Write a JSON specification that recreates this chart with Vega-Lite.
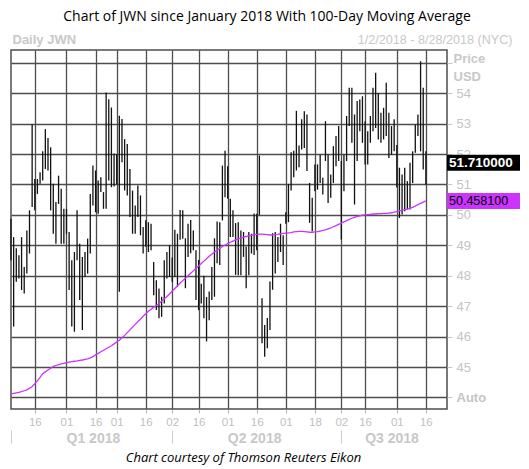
{
  "$schema": "https://vega.github.io/schema/vega-lite/v6.json",
  "width": 436,
  "height": 359,
  "autosize": "none",
  "padding": {"left": 11, "top": 50, "right": 82, "bottom": 60},
  "background": "white",
  "title": {"text": "Chart of JWN since January 2018 With 100-Day Moving Average", "font": "Open Sans", "fontSize": 14, "fontWeight": "normal", "color": "#000000", "offset": 9, "dx": 38},
  "config": {"view": {"stroke": "#4d4d4d", "strokeWidth": 1.5}},
  "resolve": {"axis": {"x": "independent", "y": "independent"}},
  "datasets": {
    "px": [
      {"date": "2018-01-02", "high": 49.87, "low": 48.51, "ma": 44.11},
      {"date": "2018-01-03", "high": 49.27, "low": 46.33, "ma": 44.13},
      {"date": "2018-01-04", "high": 48.90, "low": 47.80, "ma": 44.15},
      {"date": "2018-01-05", "high": 48.67, "low": 47.91, "ma": 44.17},
      {"date": "2018-01-08", "high": 49.27, "low": 47.53, "ma": 44.19},
      {"date": "2018-01-09", "high": 48.29, "low": 47.42, "ma": 44.22},
      {"date": "2018-01-10", "high": 49.49, "low": 48.07, "ma": 44.25},
      {"date": "2018-01-11", "high": 50.15, "low": 48.73, "ma": 44.30},
      {"date": "2018-01-12", "high": 52.98, "low": 50.26, "ma": 44.36},
      {"date": "2018-01-16", "high": 51.18, "low": 50.15, "ma": 44.45},
      {"date": "2018-01-17", "high": 51.18, "low": 50.69, "ma": 44.55},
      {"date": "2018-01-18", "high": 51.40, "low": 51.02, "ma": 44.66},
      {"date": "2018-01-19", "high": 52.09, "low": 51.13, "ma": 44.78},
      {"date": "2018-01-22", "high": 52.82, "low": 51.51, "ma": 44.84},
      {"date": "2018-01-23", "high": 52.53, "low": 51.46, "ma": 44.90},
      {"date": "2018-01-24", "high": 52.22, "low": 50.15, "ma": 44.96},
      {"date": "2018-01-25", "high": 51.02, "low": 49.38, "ma": 45.02},
      {"date": "2018-01-26", "high": 50.42, "low": 49.05, "ma": 45.05},
      {"date": "2018-01-29", "high": 51.29, "low": 50.36, "ma": 45.08},
      {"date": "2018-01-30", "high": 50.86, "low": 49.05, "ma": 45.10},
      {"date": "2018-01-31", "high": 50.20, "low": 49.05, "ma": 45.12},
      {"date": "2018-02-01", "high": 50.20, "low": 49.38, "ma": 45.14},
      {"date": "2018-02-02", "high": 49.44, "low": 47.53, "ma": 45.16},
      {"date": "2018-02-05", "high": 48.51, "low": 46.33, "ma": 45.18},
      {"date": "2018-02-06", "high": 48.78, "low": 46.16, "ma": 45.19},
      {"date": "2018-02-07", "high": 50.15, "low": 48.51, "ma": 45.20},
      {"date": "2018-02-08", "high": 49.05, "low": 47.20, "ma": 45.22},
      {"date": "2018-02-09", "high": 48.62, "low": 46.22, "ma": 45.23},
      {"date": "2018-02-12", "high": 48.78, "low": 47.96, "ma": 45.25},
      {"date": "2018-02-13", "high": 49.22, "low": 48.07, "ma": 45.27},
      {"date": "2018-02-14", "high": 50.69, "low": 48.73, "ma": 45.30},
      {"date": "2018-02-15", "high": 51.62, "low": 50.31, "ma": 45.34},
      {"date": "2018-02-16", "high": 51.46, "low": 50.09, "ma": 45.40},
      {"date": "2018-02-20", "high": 51.13, "low": 50.04, "ma": 45.45},
      {"date": "2018-02-21", "high": 51.24, "low": 50.75, "ma": 45.50},
      {"date": "2018-02-22", "high": 50.75, "low": 50.20, "ma": 45.55},
      {"date": "2018-02-23", "high": 54.02, "low": 50.20, "ma": 45.60},
      {"date": "2018-02-26", "high": 53.80, "low": 51.13, "ma": 45.65},
      {"date": "2018-02-27", "high": 53.53, "low": 50.91, "ma": 45.70},
      {"date": "2018-02-28", "high": 52.02, "low": 50.93, "ma": 45.76},
      {"date": "2018-03-01", "high": 52.00, "low": 51.00, "ma": 45.82},
      {"date": "2018-03-02", "high": 53.26, "low": 47.47, "ma": 45.88},
      {"date": "2018-03-05", "high": 53.15, "low": 51.73, "ma": 45.96},
      {"date": "2018-03-06", "high": 52.49, "low": 50.80, "ma": 46.04},
      {"date": "2018-03-07", "high": 52.33, "low": 50.64, "ma": 46.13},
      {"date": "2018-03-08", "high": 51.51, "low": 49.93, "ma": 46.22},
      {"date": "2018-03-09", "high": 50.80, "low": 49.38, "ma": 46.31},
      {"date": "2018-03-12", "high": 50.31, "low": 49.38, "ma": 46.40},
      {"date": "2018-03-13", "high": 50.97, "low": 49.93, "ma": 46.49},
      {"date": "2018-03-14", "high": 50.64, "low": 49.33, "ma": 46.58},
      {"date": "2018-03-15", "high": 49.60, "low": 48.73, "ma": 46.67},
      {"date": "2018-03-16", "high": 49.82, "low": 48.95, "ma": 46.75},
      {"date": "2018-03-19", "high": 49.76, "low": 48.78, "ma": 46.83},
      {"date": "2018-03-20", "high": 49.71, "low": 48.84, "ma": 46.90},
      {"date": "2018-03-21", "high": 48.45, "low": 47.36, "ma": 46.96},
      {"date": "2018-03-22", "high": 47.85, "low": 46.87, "ma": 47.02},
      {"date": "2018-03-23", "high": 47.58, "low": 46.60, "ma": 47.09},
      {"date": "2018-03-26", "high": 47.31, "low": 46.65, "ma": 47.17},
      {"date": "2018-03-27", "high": 48.51, "low": 47.09, "ma": 47.24},
      {"date": "2018-03-28", "high": 48.78, "low": 47.91, "ma": 47.32},
      {"date": "2018-03-29", "high": 49.00, "low": 47.96, "ma": 47.40},
      {"date": "2018-04-02", "high": 48.60, "low": 47.80, "ma": 47.49},
      {"date": "2018-04-03", "high": 49.51, "low": 47.97, "ma": 47.58},
      {"date": "2018-04-04", "high": 49.38, "low": 47.64, "ma": 47.67},
      {"date": "2018-04-05", "high": 50.16, "low": 49.18, "ma": 47.76},
      {"date": "2018-04-06", "high": 50.15, "low": 49.22, "ma": 47.84},
      {"date": "2018-04-09", "high": 49.23, "low": 47.59, "ma": 47.92},
      {"date": "2018-04-10", "high": 49.71, "low": 48.62, "ma": 48.00},
      {"date": "2018-04-11", "high": 49.83, "low": 48.74, "ma": 48.08},
      {"date": "2018-04-12", "high": 49.49, "low": 48.84, "ma": 48.16},
      {"date": "2018-04-13", "high": 48.84, "low": 47.20, "ma": 48.24},
      {"date": "2018-04-16", "high": 48.52, "low": 46.87, "ma": 48.32},
      {"date": "2018-04-17", "high": 47.74, "low": 47.09, "ma": 48.40},
      {"date": "2018-04-18", "high": 48.00, "low": 46.60, "ma": 48.48},
      {"date": "2018-04-19", "high": 47.30, "low": 45.84, "ma": 48.56},
      {"date": "2018-04-20", "high": 47.48, "low": 46.54, "ma": 48.64},
      {"date": "2018-04-23", "high": 48.29, "low": 47.20, "ma": 48.71},
      {"date": "2018-04-24", "high": 49.23, "low": 47.31, "ma": 48.78},
      {"date": "2018-04-25", "high": 49.78, "low": 48.41, "ma": 48.84},
      {"date": "2018-04-26", "high": 49.76, "low": 48.35, "ma": 48.90},
      {"date": "2018-04-27", "high": 51.62, "low": 49.82, "ma": 48.96},
      {"date": "2018-04-30", "high": 52.11, "low": 50.58, "ma": 49.01},
      {"date": "2018-05-01", "high": 51.60, "low": 50.53, "ma": 49.06},
      {"date": "2018-05-02", "high": 50.53, "low": 49.27, "ma": 49.10},
      {"date": "2018-05-03", "high": 50.15, "low": 49.27, "ma": 49.14},
      {"date": "2018-05-04", "high": 49.73, "low": 48.03, "ma": 49.18},
      {"date": "2018-05-07", "high": 49.76, "low": 48.02, "ma": 49.21},
      {"date": "2018-05-08", "high": 49.49, "low": 48.02, "ma": 49.24},
      {"date": "2018-05-09", "high": 49.44, "low": 48.62, "ma": 49.27},
      {"date": "2018-05-10", "high": 48.96, "low": 47.59, "ma": 49.29},
      {"date": "2018-05-11", "high": 49.44, "low": 48.02, "ma": 49.31},
      {"date": "2018-05-14", "high": 49.38, "low": 48.73, "ma": 49.33},
      {"date": "2018-05-15", "high": 50.05, "low": 48.68, "ma": 49.35},
      {"date": "2018-05-16", "high": 50.04, "low": 48.84, "ma": 49.36},
      {"date": "2018-05-17", "high": 51.95, "low": 50.00, "ma": 49.37},
      {"date": "2018-05-18", "high": 47.26, "low": 45.78, "ma": 49.37},
      {"date": "2018-05-21", "high": 46.38, "low": 45.34, "ma": 49.36},
      {"date": "2018-05-22", "high": 46.61, "low": 45.62, "ma": 49.35},
      {"date": "2018-05-23", "high": 47.81, "low": 46.22, "ma": 49.34},
      {"date": "2018-05-24", "high": 49.40, "low": 47.54, "ma": 49.34},
      {"date": "2018-05-25", "high": 49.44, "low": 48.07, "ma": 49.35},
      {"date": "2018-05-29", "high": 49.27, "low": 48.45, "ma": 49.36},
      {"date": "2018-05-30", "high": 49.71, "low": 48.78, "ma": 49.38},
      {"date": "2018-05-31", "high": 49.33, "low": 48.35, "ma": 49.39},
      {"date": "2018-06-01", "high": 50.09, "low": 49.71, "ma": 49.40},
      {"date": "2018-06-04", "high": 51.02, "low": 49.76, "ma": 49.41},
      {"date": "2018-06-05", "high": 52.06, "low": 50.80, "ma": 49.42},
      {"date": "2018-06-06", "high": 52.11, "low": 51.24, "ma": 49.44},
      {"date": "2018-06-07", "high": 53.42, "low": 51.46, "ma": 49.45},
      {"date": "2018-06-08", "high": 52.28, "low": 51.57, "ma": 49.46},
      {"date": "2018-06-11", "high": 53.14, "low": 52.15, "ma": 49.46},
      {"date": "2018-06-12", "high": 53.41, "low": 52.20, "ma": 49.45},
      {"date": "2018-06-13", "high": 53.30, "low": 51.44, "ma": 49.44},
      {"date": "2018-06-14", "high": 51.05, "low": 49.74, "ma": 49.43},
      {"date": "2018-06-15", "high": 50.56, "low": 49.46, "ma": 49.43},
      {"date": "2018-06-18", "high": 51.66, "low": 50.78, "ma": 49.44},
      {"date": "2018-06-19", "high": 51.66, "low": 50.83, "ma": 49.45},
      {"date": "2018-06-20", "high": 51.98, "low": 51.05, "ma": 49.47},
      {"date": "2018-06-21", "high": 51.22, "low": 50.67, "ma": 49.49},
      {"date": "2018-06-22", "high": 53.08, "low": 51.77, "ma": 49.51},
      {"date": "2018-06-25", "high": 51.98, "low": 50.39, "ma": 49.54},
      {"date": "2018-06-26", "high": 51.33, "low": 50.56, "ma": 49.57},
      {"date": "2018-06-27", "high": 52.26, "low": 51.05, "ma": 49.61},
      {"date": "2018-06-28", "high": 52.59, "low": 51.60, "ma": 49.65},
      {"date": "2018-06-29", "high": 52.92, "low": 51.77, "ma": 49.69},
      {"date": "2018-07-02", "high": 51.77, "low": 49.19, "ma": 49.73},
      {"date": "2018-07-03", "high": 51.98, "low": 50.78, "ma": 49.77},
      {"date": "2018-07-05", "high": 53.25, "low": 51.77, "ma": 49.81},
      {"date": "2018-07-06", "high": 54.18, "low": 52.92, "ma": 49.85},
      {"date": "2018-07-09", "high": 54.18, "low": 52.37, "ma": 49.89},
      {"date": "2018-07-10", "high": 53.30, "low": 50.34, "ma": 49.92},
      {"date": "2018-07-11", "high": 53.74, "low": 51.77, "ma": 49.95},
      {"date": "2018-07-12", "high": 53.79, "low": 52.75, "ma": 49.97},
      {"date": "2018-07-13", "high": 53.90, "low": 52.37, "ma": 49.99},
      {"date": "2018-07-16", "high": 53.08, "low": 51.66, "ma": 50.00},
      {"date": "2018-07-17", "high": 52.75, "low": 51.66, "ma": 50.01},
      {"date": "2018-07-18", "high": 53.25, "low": 52.37, "ma": 50.02},
      {"date": "2018-07-19", "high": 54.18, "low": 52.75, "ma": 50.03},
      {"date": "2018-07-20", "high": 54.67, "low": 52.86, "ma": 50.03},
      {"date": "2018-07-23", "high": 54.01, "low": 52.48, "ma": 50.04},
      {"date": "2018-07-24", "high": 53.36, "low": 52.37, "ma": 50.04},
      {"date": "2018-07-25", "high": 53.52, "low": 52.48, "ma": 50.05},
      {"date": "2018-07-26", "high": 54.34, "low": 52.59, "ma": 50.05},
      {"date": "2018-07-27", "high": 53.36, "low": 51.87, "ma": 50.06},
      {"date": "2018-07-30", "high": 52.92, "low": 51.98, "ma": 50.07},
      {"date": "2018-07-31", "high": 53.14, "low": 52.09, "ma": 50.09},
      {"date": "2018-08-01", "high": 52.30, "low": 50.90, "ma": 50.11},
      {"date": "2018-08-02", "high": 51.55, "low": 49.90, "ma": 50.13},
      {"date": "2018-08-03", "high": 51.33, "low": 50.01, "ma": 50.15},
      {"date": "2018-08-06", "high": 51.55, "low": 50.12, "ma": 50.17},
      {"date": "2018-08-07", "high": 51.11, "low": 50.18, "ma": 50.19},
      {"date": "2018-08-08", "high": 51.71, "low": 50.18, "ma": 50.22},
      {"date": "2018-08-09", "high": 52.09, "low": 51.05, "ma": 50.25},
      {"date": "2018-08-10", "high": 52.97, "low": 52.04, "ma": 50.29},
      {"date": "2018-08-13", "high": 53.30, "low": 52.59, "ma": 50.34},
      {"date": "2018-08-14", "high": 55.05, "low": 52.09, "ma": 50.38},
      {"date": "2018-08-15", "high": 54.18, "low": 51.49, "ma": 50.42},
      {"date": "2018-08-16", "high": 52.09, "low": 51.00, "ma": 50.4581}
    ],
    "tags": [
      {"kind": "last", "value": 51.71, "label": "51.710000"},
      {"kind": "ma", "value": 50.4581, "label": "50.458100"}
    ]
  },
  "layer": [
    {
      "data": {"name": "px"},
      "mark": {"type": "rule", "color": "#111111", "strokeWidth": 1.3},
      "encoding": {
        "x": {
          "field": "date", "type": "ordinal",
          "scale": {"type": "point", "padding": 0, "domain": ["2018-01-02","2018-01-03","2018-01-04","2018-01-05","2018-01-08","2018-01-09","2018-01-10","2018-01-11","2018-01-12","2018-01-16","2018-01-17","2018-01-18","2018-01-19","2018-01-22","2018-01-23","2018-01-24","2018-01-25","2018-01-26","2018-01-29","2018-01-30","2018-01-31","2018-02-01","2018-02-02","2018-02-05","2018-02-06","2018-02-07","2018-02-08","2018-02-09","2018-02-12","2018-02-13","2018-02-14","2018-02-15","2018-02-16","2018-02-20","2018-02-21","2018-02-22","2018-02-23","2018-02-26","2018-02-27","2018-02-28","2018-03-01","2018-03-02","2018-03-05","2018-03-06","2018-03-07","2018-03-08","2018-03-09","2018-03-12","2018-03-13","2018-03-14","2018-03-15","2018-03-16","2018-03-19","2018-03-20","2018-03-21","2018-03-22","2018-03-23","2018-03-26","2018-03-27","2018-03-28","2018-03-29","2018-04-02","2018-04-03","2018-04-04","2018-04-05","2018-04-06","2018-04-09","2018-04-10","2018-04-11","2018-04-12","2018-04-13","2018-04-16","2018-04-17","2018-04-18","2018-04-19","2018-04-20","2018-04-23","2018-04-24","2018-04-25","2018-04-26","2018-04-27","2018-04-30","2018-05-01","2018-05-02","2018-05-03","2018-05-04","2018-05-07","2018-05-08","2018-05-09","2018-05-10","2018-05-11","2018-05-14","2018-05-15","2018-05-16","2018-05-17","2018-05-18","2018-05-21","2018-05-22","2018-05-23","2018-05-24","2018-05-25","2018-05-29","2018-05-30","2018-05-31","2018-06-01","2018-06-04","2018-06-05","2018-06-06","2018-06-07","2018-06-08","2018-06-11","2018-06-12","2018-06-13","2018-06-14","2018-06-15","2018-06-18","2018-06-19","2018-06-20","2018-06-21","2018-06-22","2018-06-25","2018-06-26","2018-06-27","2018-06-28","2018-06-29","2018-07-02","2018-07-03","2018-07-05","2018-07-06","2018-07-09","2018-07-10","2018-07-11","2018-07-12","2018-07-13","2018-07-16","2018-07-17","2018-07-18","2018-07-19","2018-07-20","2018-07-23","2018-07-24","2018-07-25","2018-07-26","2018-07-27","2018-07-30","2018-07-31","2018-08-01","2018-08-02","2018-08-03","2018-08-06","2018-08-07","2018-08-08","2018-08-09","2018-08-10","2018-08-13","2018-08-14","2018-08-15","2018-08-16","2018-08-17","2018-08-20","2018-08-21","2018-08-22","2018-08-23","2018-08-24","2018-08-27","2018-08-28"]},
          "axis": {
            "orient": "bottom",
            "values": ["2018-01-16","2018-02-01","2018-02-16","2018-03-01","2018-03-16","2018-04-02","2018-04-16","2018-05-01","2018-05-16","2018-06-01","2018-06-18","2018-07-02","2018-07-16","2018-08-01","2018-08-16"],
            "labelExpr": "substring(datum.value, 8, 10)",
            "title": null,
            "grid": true, "gridColor": "#4d4d4d", "gridWidth": 1.3,
            "domain": false,
            "ticks": true, "tickSize": 4, "tickColor": "#b4b4b4",
            "labelAngle": 0, "labelOverlap": false,
            "labelColor": "#c0c0c0", "labelFont": "Liberation Sans", "labelFontSize": 11.5, "labelPadding": 3
          }
        },
        "y": {
          "field": "low", "type": "quantitative",
          "scale": {"domain": [43.62, 55.42], "nice": false, "zero": false},
          "axis": {
            "orient": "right",
            "values": [44, 45, 46, 47, 48, 49, 50, 51, 52, 53, 54, 55],
            "tickCount": 12,
            "labelExpr": "datum.value == 44 ? 'Auto' : (datum.value == 55 ? '' : datum.label)",
            "grid": true, "gridColor": "#4d4d4d", "gridWidth": 1.3,
            "domain": false,
            "ticks": true, "tickSize": 5, "tickColor": "#c8c8c8",
            "labelOverlap": false, "labelBound": false,
            "labelColor": "#c4c4c4", "labelFont": "Liberation Sans", "labelFontSize": 13, "labelPadding": 4,
            "labelFontWeight": {"condition": {"test": "datum.value == 44", "value": "bold"}, "value": "normal"},
            "title": ["Price", "USD"],
            "titleAngle": 0, "titleAlign": "left", "titleBaseline": "alphabetic",
            "titleX": 6, "titleY": 12, "titleLineHeight": 18,
            "titleColor": "#c8c8c8", "titleFont": "Liberation Sans", "titleFontSize": 13, "titleFontWeight": "bold"
          }
        },
        "y2": {"field": "high"}
      }
    },
    {
      "data": {"name": "px"},
      "mark": {"type": "line", "color": "#cc33ff", "strokeWidth": 1.3},
      "encoding": {
        "x": {
          "field": "date", "type": "ordinal",
          "axis": {
            "orient": "bottom", "offset": 21,
            "values": ["2018-01-02","2018-02-15","2018-04-02","2018-05-15","2018-07-02","2018-07-30"],
            "labelExpr": "datum.value == '2018-02-15' ? 'Q1 2018' : (datum.value == '2018-05-15' ? 'Q2 2018' : (datum.value == '2018-07-30' ? 'Q3 2018' : ''))",
            "grid": false, "domain": false,
            "ticks": true, "tickSize": 13,
            "tickColor": {"condition": {"test": "indexof(['2018-01-02','2018-04-02','2018-07-02'], datum.value) >= 0", "value": "#cccccc"}, "value": "transparent"},
            "labelAngle": 0, "labelOverlap": false, "labelPadding": -12, "labelBaseline": "top",
            "labelColor": "#c8c8c8", "labelFont": "Liberation Sans", "labelFontSize": 14, "labelFontWeight": "bold",
            "title": "Chart courtesy of Thomson Reuters Eikon",
            "titleFont": "Open Sans", "titleFontStyle": "italic", "titleFontWeight": "normal", "titleFontSize": 13,
            "titleColor": "#000000", "titleX": 232, "titleY": 27, "titleAlign": "center", "titleBaseline": "middle"
          }
        },
        "y": {"field": "ma", "type": "quantitative", "axis": null}
      }
    },
    {
      "data": {"name": "tags"},
      "mark": {"type": "rect", "x2Offset": 73, "yOffset": -8, "y2Offset": 8},
      "encoding": {
        "x": {
          "datum": "2018-08-28", "type": "ordinal",
          "axis": {
            "orient": "top", "labels": false, "ticks": false, "domain": false, "grid": false,
            "title": "Daily JWN", "titleX": 1, "titleY": -11, "titleAlign": "left", "titleBaseline": "middle",
            "titleColor": "#c8c8c8", "titleFont": "Liberation Sans", "titleFontSize": 13, "titleFontWeight": "bold"
          }
        },
        "x2": {"datum": "2018-08-28"},
        "y": {"field": "value", "type": "quantitative", "axis": null},
        "y2": {"field": "value"},
        "color": {"field": "kind", "type": "nominal", "scale": {"domain": ["last", "ma"], "range": ["#000000", "#cc33ff"]}, "legend": null}
      }
    },
    {
      "data": {"name": "tags"},
      "transform": [{"filter": "datum.kind == 'last'"}],
      "mark": {"type": "text", "align": "left", "baseline": "middle", "dx": 2, "color": "#ffffff", "font": "Liberation Sans", "fontSize": 13.5, "fontWeight": "bold"},
      "encoding": {
        "x": {
          "datum": "2018-08-28", "type": "ordinal",
          "axis": {
            "orient": "top", "labels": false, "ticks": false, "domain": false, "grid": false,
            "title": "1/2/2018 - 8/28/2018 (NYC)", "titleX": 501, "titleY": -11, "titleAlign": "right", "titleBaseline": "middle",
            "titleColor": "#c8c8c8", "titleFont": "Liberation Sans", "titleFontSize": 12.6, "titleFontWeight": "normal"
          }
        },
        "y": {"field": "value", "type": "quantitative", "axis": null},
        "text": {"field": "label"}
      }
    },
    {
      "data": {"name": "tags"},
      "transform": [{"filter": "datum.kind == 'ma'"}],
      "mark": {"type": "text", "align": "left", "baseline": "middle", "dx": 2, "color": "#000000", "font": "Liberation Sans", "fontSize": 12.5, "fontWeight": "normal"},
      "encoding": {
        "x": {"datum": "2018-08-28", "type": "ordinal", "axis": null},
        "y": {"field": "value", "type": "quantitative", "axis": null},
        "text": {"field": "label"}
      }
    }
  ]
}
